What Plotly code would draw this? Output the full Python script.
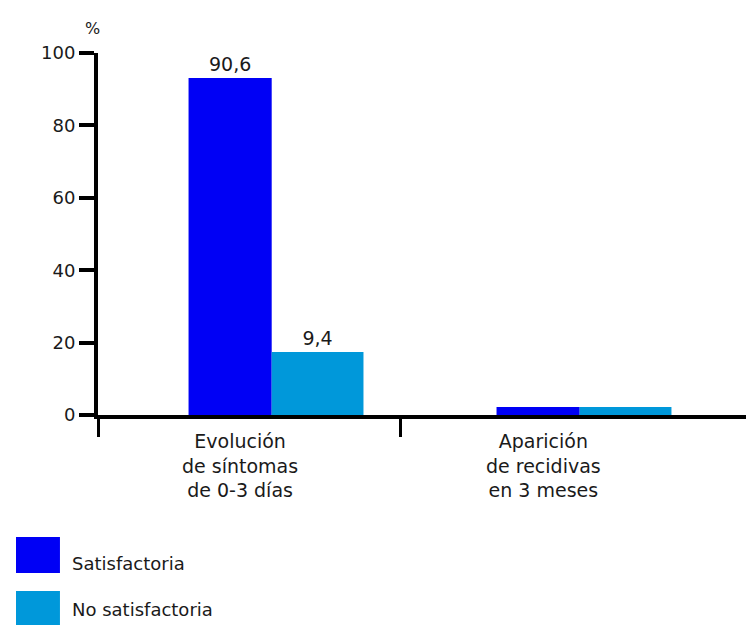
import plotly.graph_objects as go

# Data
categories = ["Evolución<br>de síntomas<br>de 0-3 días", "Aparición<br>de recidivas<br>en 3 meses"]
series_names = ["Satisfactoria", "No satisfactoria"]
satisfactoria = [93.1, 2.2]
no_satisfactoria = [17.4, 2.2]
satisfactoria_labels = ["90,6", ""]
no_satisfactoria_labels = ["9,4", ""]
y_ticks = [0, 20, 40, 60, 80, 100]

x_pos = list(range(len(categories)))
colors = ["#0000F5", "#0098DA"]
font_family = "DejaVu Sans, Verdana, sans-serif"
text_color = "#1a1a1a"

fig = go.Figure()
fig.add_trace(go.Bar(
    x=x_pos, y=satisfactoria, name=series_names[0],
    marker=dict(color=colors[0], line=dict(width=0)),
    width=0.27, offset=-0.284,
    text=satisfactoria_labels, textposition="outside", textangle=0,
    outsidetextfont=dict(family=font_family, size=19, color=text_color),
    cliponaxis=False, showlegend=False,
))
fig.add_trace(go.Bar(
    x=x_pos, y=no_satisfactoria, name=series_names[1],
    marker=dict(color=colors[1], line=dict(width=0)),
    width=0.298, offset=-0.014,
    text=no_satisfactoria_labels, textposition="outside", textangle=0,
    outsidetextfont=dict(family=font_family, size=19, color=text_color),
    cliponaxis=False, showlegend=False,
))

# Category labels (offset left of group centre, as in the reference)
cat_offsets = [-0.117, -0.133]
for i, cat in enumerate(categories):
    fig.add_annotation(
        x=x_pos[i] + cat_offsets[i], xref="x", y=-0.035, yref="paper",
        text=cat, showarrow=False, xanchor="center", yanchor="top",
        font=dict(family=font_family, size=19, color=text_color), align="center",
    )

# "%" unit label
fig.add_annotation(x=-0.008, xref="paper", y=1.035, yref="paper", text="%",
                   showarrow=False, xanchor="center", yanchor="bottom",
                   font=dict(family=font_family, size=16, color=text_color))

# Legend drawn as squares + text
legend_rows = [(-0.337, -0.4365, -0.409), (-0.486, -0.583, -0.537)]
for name, col, (y0, y1, yt) in zip(series_names, colors, legend_rows):
    fig.add_shape(type="rect", xref="paper", yref="paper",
                  x0=-0.125, x1=-0.058, y0=y1, y1=y0,
                  fillcolor=col, line=dict(width=0))
    fig.add_annotation(x=-0.043, xref="paper", y=yt, yref="paper", text=name,
                       showarrow=False, xanchor="left", yanchor="middle",
                       font=dict(family=font_family, size=18, color=text_color))

fig.update_layout(
    width=746, height=617,
    margin=dict(l=90, r=0, t=45, b=210),
    paper_bgcolor="white", plot_bgcolor="white",
    barmode="overlay",
    font=dict(family=font_family, color=text_color),
)
fig.update_xaxes(
    range=[-0.578, 1.552], showgrid=False, zeroline=False,
    showline=True, linecolor="black", linewidth=4,
    tickmode="array", tickvals=[-0.578, 0.403], ticktext=["", ""],
    ticks="outside", ticklen=18, tickwidth=3, tickcolor="black",
)
fig.update_yaxes(
    range=[0, 100], showgrid=False, zeroline=False,
    showline=True, linecolor="black", linewidth=4,
    tickmode="array", tickvals=y_ticks,
    ticks="outside", ticklen=15, tickwidth=4, tickcolor="black",
    tickfont=dict(family=font_family, size=18, color=text_color),
)

fig.write_html("out.html")
